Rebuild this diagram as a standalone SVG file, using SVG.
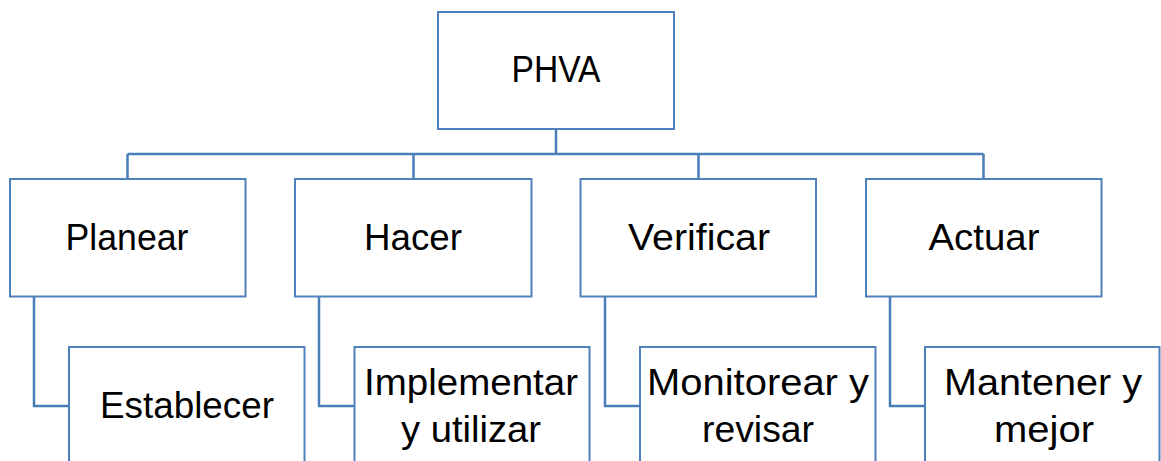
<svg xmlns="http://www.w3.org/2000/svg" width="1161" height="461" viewBox="0 0 1161 461">
<style>
.box{fill:#ffffff;stroke:#4F81BD;stroke-width:2}
.con{fill:none;stroke:#4A7EBB;stroke-width:2.5}
text{font-family:"Liberation Sans",Arial,sans-serif;font-size:36px;fill:#000000;text-anchor:middle}
</style>
<rect width="1161" height="461" fill="#ffffff"/>
<g id="connectors">
<path class="con" d="M556 129V154M127.5 154H983.5M127.5 154V179M413.5 154V179M698.5 154V179M983.5 154V179"/>
<path class="con" d="M34 297V406H69M319 297V406H354.5M605 297V406H640M890 297V406H925"/>
</g>
<g id="phva"><rect class="box" x="438" y="12" width="236" height="117"/><text x="556" y="82" textLength="89" lengthAdjust="spacingAndGlyphs">PHVA</text></g>
<g id="planear"><rect class="box" x="10" y="179" width="235.5" height="117.5"/><text x="127" y="250" textLength="123" lengthAdjust="spacingAndGlyphs">Planear</text></g>
<g id="hacer"><rect class="box" x="295" y="179" width="236.5" height="117.5"/><text x="413" y="250" textLength="98" lengthAdjust="spacingAndGlyphs">Hacer</text></g>
<g id="verificar"><rect class="box" x="580.5" y="179" width="235.5" height="117.5"/><text x="699" y="250" textLength="142" lengthAdjust="spacingAndGlyphs">Verificar</text></g>
<g id="actuar"><rect class="box" x="866" y="179" width="235.5" height="117.5"/><text x="984" y="250" textLength="111" lengthAdjust="spacingAndGlyphs">Actuar</text></g>
<g id="establecer"><rect class="box" x="69" y="347" width="235.5" height="120"/><text x="187" y="417.5" textLength="174" lengthAdjust="spacingAndGlyphs">Establecer</text></g>
<g id="implementar"><rect class="box" x="354.5" y="347" width="235" height="120"/><text x="471" y="395" textLength="214" lengthAdjust="spacingAndGlyphs">Implementar</text><text x="471" y="441.5" textLength="140" lengthAdjust="spacingAndGlyphs">y utilizar</text></g>
<g id="monitorear"><rect class="box" x="640" y="347" width="235.5" height="120"/><text x="758" y="395" textLength="222" lengthAdjust="spacingAndGlyphs">Monitorear y</text><text x="758" y="441.5" textLength="112" lengthAdjust="spacingAndGlyphs">revisar</text></g>
<g id="mantener"><rect class="box" x="925" y="347" width="234.5" height="120"/><text x="1043" y="395" textLength="198" lengthAdjust="spacingAndGlyphs">Mantener y</text><text x="1044" y="441.5" textLength="100" lengthAdjust="spacingAndGlyphs">mejor</text></g>
</svg>
